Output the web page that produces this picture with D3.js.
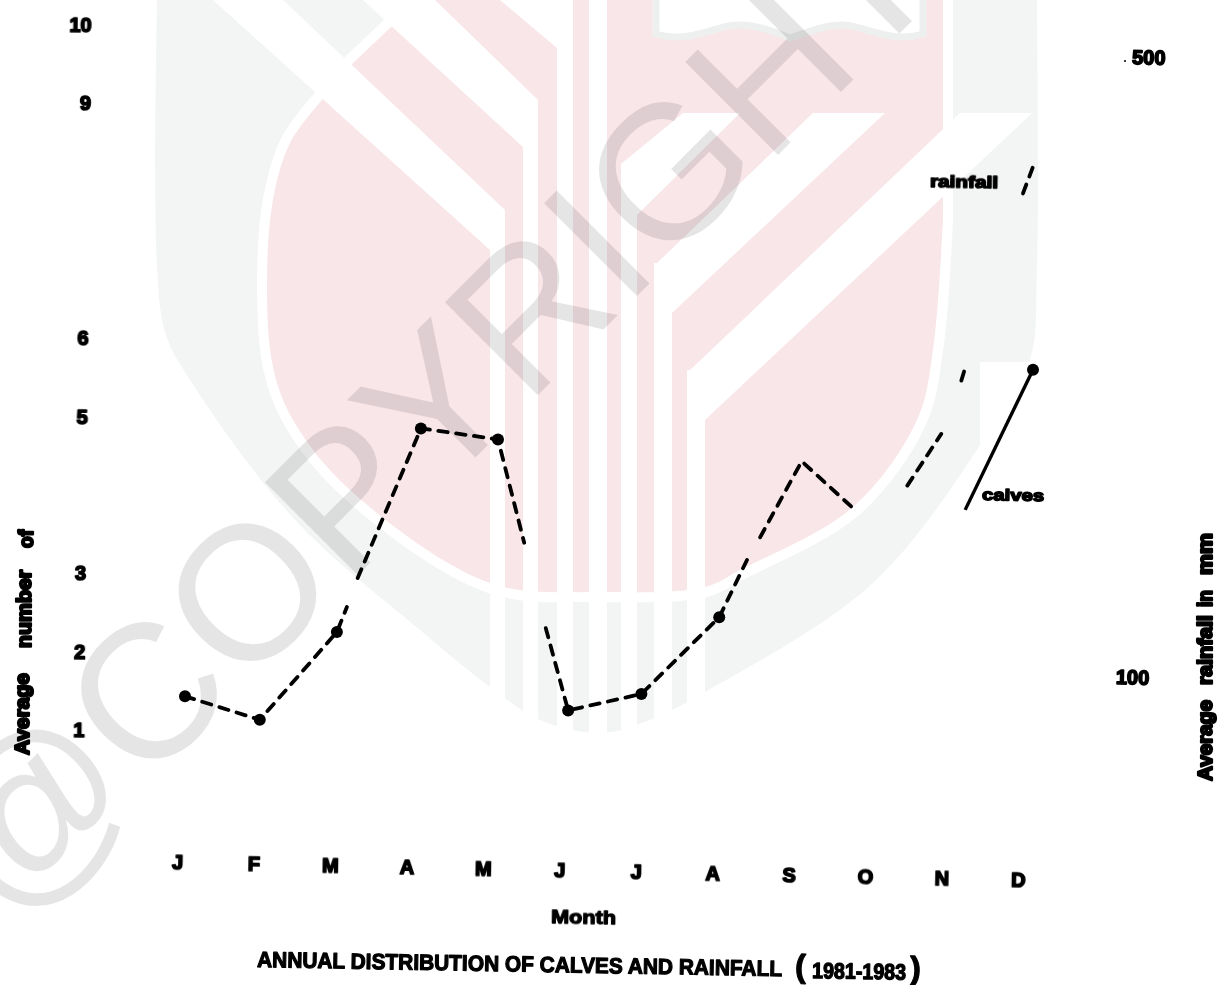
<!DOCTYPE html>
<html>
<head>
<meta charset="utf-8">
<script src="https://d3js.org/d3.v7.min.js"></script>
<style>
  html, body { margin: 0; padding: 0; background: #fff; }
  svg { display: block; }
  .ink { filter: blur(0.45px); }
  .ink text { font-family: "Liberation Sans", Arial, sans-serif; font-weight: 700; fill: #000; stroke: #000; stroke-linejoin: round; }
</style>
</head>
<body>
<div id="chart"></div>
<script>
// values
var months = ["J", "F", "M", "A", "M", "J", "J", "A", "S", "O", "N", "D"];
var leftTicks = [1, 2, 3, 5, 6, 9, 10];
var rightTicks = [100, 500];
var leftAxisWords = ["Average", "number", "of"];
var rightAxisWords = ["Average", "rainfall", "in", "mm"];

// month position (0 = J, 11 = D) and average number of calves for each run of the line
var runOneMonth = [0, 0.97, 1.97, 2.10];
var runOneValue = [1.43, 1.13, 2.25, 2.57];
var runTwoMonth = [2.24, 3.06, 4.06, 4.40];
var runTwoValue = [2.94, 4.85, 4.71, 3.39];
var runThreeMonth = [4.68, 4.97, 5.92, 6.93, 7.29];
var runThreeValue = [2.30, 1.25, 1.46, 2.44, 3.17];
var runFourMonth = [7.46, 8.00, 8.69];
var runFourValue = [3.46, 4.43, 3.81];
var runFiveMonth = [9.37, 9.81];
var runFiveValue = [4.12, 4.78];
var runSixMonth = [10.07, 10.12];
var runSixValue = [5.46, 5.62];
var legendDashMonth = [10.87, 11];
var legendDashValue = [7.85, 8.19];
var solidMonth = [10.12, 11];
var solidValue = [3.81, 5.60];
var dotMonth = [0, 0.97, 1.97, 3.06, 4.06, 4.97, 5.92, 6.93, 11];
var dotValue = [1.43, 1.13, 2.25, 4.85, 4.71, 1.25, 1.46, 2.44, 5.60];

var width = 1218, height = 985;

var svg = d3.select("#chart").append("svg")
  .attr("width", width)
  .attr("height", height)
  .attr("viewBox", "0 0 " + width + " " + height);

// library crest and copyright mark behind the scan
var wm = svg.append("g");
var grey = "#f3f5f5", pink = "#f9e6e9";
var smooth = d3.line().curve(d3.curveCatmullRom);

wm.append("path").attr("fill", grey)
  .attr("d", smooth([[157, 0], [157, 267], [166, 335], [190, 380], [295, 520], [420, 630], [490, 687], [540, 720],
    [600, 733], [650, 720], [703, 693], [873, 583], [990, 430], [1030, 360], [1037, 267], [1037, 0]]));

// white stroke leaves the thin gap between ring and inner field
wm.append("path").attr("fill", pink).attr("stroke", "#fff").attr("stroke-width", 20).style("paint-order", "stroke")
  .attr("d", smooth([[322, 100], [290, 143], [273, 200], [267, 283], [273, 367], [293, 420], [350, 490], [490, 583],
    [600, 592], [705, 587], [740, 570], [853, 507], [917, 420], [933, 350], [943, 220]])
    + "L943,-20 L450,-20 L430,0 L390,28 L353,63 Z");

// vertical white strips, each starting where a diagonal band meets it
[[490, 505, 250], [523, 538, 147], [557, 573, 0], [589, 607, 0], [621, 637, 164], [654, 672, 263], [687, 705, 370]].forEach(function(s) {
  wm.append("rect").attr("x", s[0]).attr("y", s[2]).attr("width", s[1] - s[0]).attr("height", 745 - s[2]).attr("fill", "#fff");
});

// diagonal white bands
var bands = [
  "M213,0 L283,0 L505,210 L505,264 L490,250 Z",
  "M363,0 L435,0 L538,100 L538,160 L523,147 Z",
  "M500,0 L557,0 L557,48 Z",
  "M683,113 L740,113 L637,215 L621,215 L621,164 Z",
  "M813,113 L885,113 L672,313 L654,313 L654,266 Z",
  "M960,113 L1032,113 L705,420 L687,420 L687,373 Z"
];
wm.selectAll("path.band").data(bands).enter().append("path")
  .attr("class", "band").attr("fill", "#fff").attr("d", function(d) { return d; });

// book at the top of the crest
wm.append("path").attr("fill", "#fff").attr("stroke", "#eef0ef").attr("stroke-width", 7)
  .attr("d", "M656,-5 L656,34 C680,41 700,34 720,28 C745,20 770,30 790,38 C815,30 835,20 860,28 C880,34 900,41 923,34 L923,-5 Z");

// the scan has a white patch behind the calves label
wm.append("rect").attr("x", 980).attr("y", 362).attr("width", 70).attr("height", 170).attr("fill", "#fff");

wm.append("text")
  .attr("transform", "translate(7,926) rotate(-45)")
  .attr("font-family", "Liberation Sans, Arial, sans-serif")
  .attr("font-size", 191)
  .attr("fill", "rgba(0,0,0,0.1)")
  .text("@COPYRIGHT");

// scales
var xMonth = d3.scaleLinear().domain([0, 11]).range([185, 1033]);
var yCalves = d3.scaleLinear().domain([1, 10]).range([730, 25]);
var yRain = d3.scaleLinear().domain([100, 500]).range([677, 57]);
var xLabels = d3.scalePoint().domain(d3.range(months.length)).range([177, 1018]);

var ink = svg.append("g").attr("class", "ink");

// axes, each tilted a little like the scan is
var leftAxis = d3.axisLeft(yCalves).tickValues(leftTicks).tickSize(0).tickPadding(0);
ink.append("g")
  .attr("transform", "translate(88,0) rotate(0.6,0,380)")
  .call(leftAxis)
  .call(function(g) { g.select(".domain").remove(); });

var rightAxis = d3.axisRight(yRain).tickValues(rightTicks).tickSize(0).tickPadding(0);
ink.append("g")
  .attr("transform", "translate(1124,0) rotate(1.5,0,367)")
  .call(rightAxis)
  .call(function(g) { g.select(".domain").remove(); });
ink.append("circle").attr("cx", 1125).attr("cy", yRain(500) + 4).attr("r", 1).attr("fill", "#000");

var bottomAxis = d3.axisBottom(xLabels).tickSize(0).tickPadding(0)
  .tickFormat(function(i) { return months[i]; });
ink.append("g")
  .attr("transform", "rotate(1.2,596,871) translate(0,864)")
  .call(bottomAxis)
  .call(function(g) { g.select(".domain").remove(); });

ink.selectAll(".tick text")
  .attr("font-family", "Liberation Sans, Arial, sans-serif")
  .attr("font-size", 20)
  .attr("stroke-width", 1.7);

// rotated axis titles, one text per word because the gaps are uneven
function sideWords(words, layout) {
  words.forEach(function(w, i) {
    var l = layout[i];
    ink.append("text")
      .attr("transform", "translate(" + l.x + "," + l.bottom + ") rotate(-90)")
      .attr("font-size", 20)
      .attr("stroke-width", 2.2)
      .attr("textLength", l.len)
      .attr("lengthAdjust", "spacingAndGlyphs")
      .text(w);
  });
}
sideWords(leftAxisWords, [
  { x: 29, bottom: 755, len: 82 },
  { x: 31, bottom: 648, len: 78 },
  { x: 33, bottom: 548, len: 18 }
]);
sideWords(rightAxisWords, [
  { x: 1212, bottom: 781, len: 81 },
  { x: 1212, bottom: 685, len: 70 },
  { x: 1212, bottom: 607, len: 17 },
  { x: 1212, bottom: 575, len: 42 }
]);

// month caption and chart title
function caption(str, x, y, size, len, tilt, sw) {
  var t = ink.append("text")
    .attr("transform", "rotate(" + tilt + "," + x + "," + y + ") translate(" + x + "," + y + ")")
    .attr("font-size", size)
    .attr("stroke-width", sw)
    .text(str);
  if (len) t.attr("textLength", len).attr("lengthAdjust", "spacingAndGlyphs");
}
caption("Month", 551, 923, 19, 65, 1, 1.3);
caption("ANNUAL DISTRIBUTION OF CALVES AND RAINFALL", 257, 967, 22, 525, 1, 1.2);
caption("(", 795, 977, 32, 0, 1, 1.2);
caption("1981-1983", 812, 978, 22, 94, 1, 1.3);
caption(")", 910, 979, 32, 0, 1, 1.2);
caption("rainfall", 930, 187, 16, 68, 1, 1.5);
caption("calves", 982, 500, 16, 62, 1, 1.5);

// the line: dashes with gaps where the copy has lost it
var line = d3.line()
  .x(function(d) { return xMonth(d[0]); })
  .y(function(d) { return yCalves(d[1]); });

var dashedRuns = [
  d3.zip(runOneMonth, runOneValue),
  d3.zip(runTwoMonth, runTwoValue),
  d3.zip(runThreeMonth, runThreeValue),
  d3.zip(runFourMonth, runFourValue),
  d3.zip(runFiveMonth, runFiveValue),
  d3.zip(runSixMonth, runSixValue),
  d3.zip(legendDashMonth, legendDashValue)
];

ink.selectAll(".run").data(dashedRuns).enter().append("path")
  .attr("class", "run")
  .attr("d", line)
  .attr("fill", "none")
  .attr("stroke", "#000")
  .attr("stroke-width", 3.8)
  .attr("stroke-linecap", "round")
  .attr("stroke-linejoin", "round")
  .attr("stroke-dasharray", "9.5 8.5");

ink.append("path")
  .datum(d3.zip(solidMonth, solidValue))
  .attr("d", line)
  .attr("fill", "none")
  .attr("stroke", "#000")
  .attr("stroke-width", 3.4);

ink.selectAll(".dot").data(d3.zip(dotMonth, dotValue)).enter().append("circle")
  .attr("class", "dot")
  .attr("cx", function(d) { return xMonth(d[0]); })
  .attr("cy", function(d) { return yCalves(d[1]); })
  .attr("r", 6)
  .attr("fill", "#000");
</script>
</body>
</html>
